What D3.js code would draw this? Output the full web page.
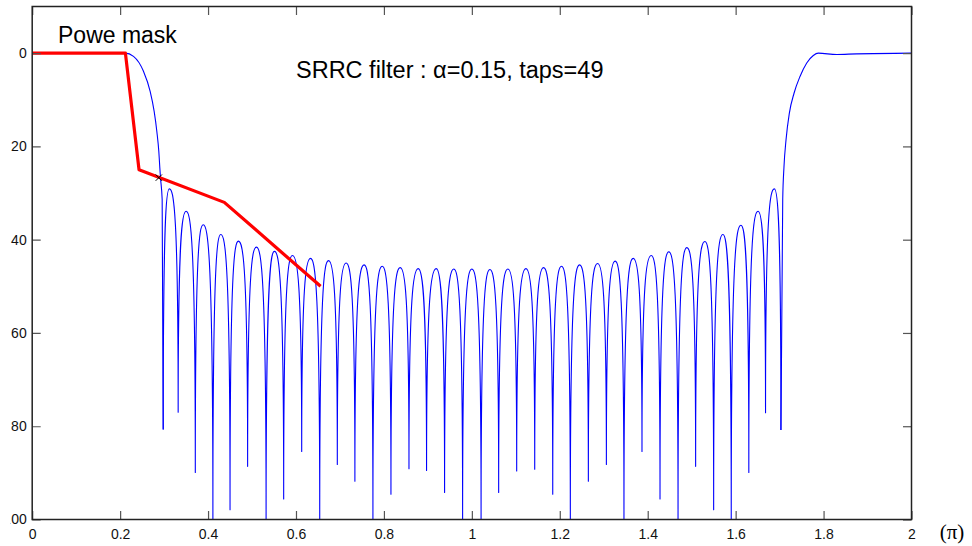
<!DOCTYPE html>
<html>
<head>
<meta charset="utf-8">
<script src="https://cdnjs.cloudflare.com/ajax/libs/d3/7.8.5/d3.min.js"></script>
<style>
  html, body { margin: 0; padding: 0; background: #fff; }
  svg { display: block; }
  text { font-family: "Liberation Sans", Arial, sans-serif; }
</style>
</head>
<body>
<svg id="chart" width="972" height="546"></svg>
<script>
// Axis ticks
const xTicks = [0, 0.2, 0.4, 0.6, 0.8, 1, 1.2, 1.4, 1.6, 1.8, 2];
const yTicks = [0, 20, 40, 60, 80, 100];

// Power mask (normalised frequency in units of pi, attenuation in dB)
const maskFreq = [0, 0.212, 0.243, 0.437, 0.656];
const maskDb   = [0, 0, 25, 32, 50];

// Point where the response crosses the mask
const crossFreq = [0.288];
const crossDb   = [26.7];

// SRRC response: pass band and lower transition edge
const leftEdgeFreq = [0, 0.2115, 0.2304, 0.2531, 0.2683, 0.2774, 0.2835, 0.2880, 0.2903, 0.2918, 0.2956];
const leftEdgeDb   = [0, 0, 0.7, 3.9, 8.2, 12.5, 16.8, 21.1, 24.6, 26.7, 31.4];

// SRRC response: upper transition edge and pass band
const rightEdgeFreq = [1.7071, 1.7100, 1.7146, 1.7221, 1.7328, 1.7464, 1.7617, 1.7767, 1.788, 1.83, 1.875, 2];
const rightEdgeDb   = [31.4, 24.3, 18.6, 12.9, 8.6, 5.0, 2.1, 0.5, 0, 0.3, 0.15, 0];

// SRRC response: stop band nulls (values at the floor are clipped at 100 dB)
const nullFreq = [0.298, 0.332, 0.371, 0.411, 0.450, 0.490, 0.532, 0.572, 0.613,
                  0.654, 0.694, 0.734, 0.775, 0.816, 0.857, 0.897, 0.938, 0.979,
                  1.021, 1.061, 1.102, 1.143, 1.184, 1.224, 1.265, 1.306, 1.346,
                  1.387, 1.428, 1.469, 1.509, 1.550, 1.590, 1.630, 1.668, 1.703];
const nullDb   = [80.7, 77.0, 89.9, 100, 97.9, 88.6, 100, 95.6, 85.4,
                  100, 88.2, 91.8, 100, 94.6, 89.1, 89.5, 94.2, 100,
                  100, 94.2, 89.6, 89.2, 94.6, 100, 91.8, 88.2, 100,
                  85.4, 95.6, 100, 88.6, 97.9, 100, 89.9, 77.1, 80.8];

// SRRC response: stop band side-lobe peaks
const peakFreq = [0.312, 0.350, 0.389, 0.429, 0.469, 0.510, 0.551, 0.592, 0.633,
                  0.674, 0.714, 0.755, 0.796, 0.837, 0.878, 0.919, 0.959, 1.000,
                  1.041, 1.082, 1.123, 1.163, 1.204, 1.245, 1.286, 1.326, 1.367,
                  1.408, 1.448, 1.489, 1.530, 1.571, 1.612, 1.651, 1.688];
const peakDb   = [29.1, 33.9, 36.8, 38.9, 40.3, 41.6, 42.5, 43.4, 44.0,
                  44.5, 45.0, 45.4, 45.7, 46.0, 46.2, 46.2, 46.3, 46.3,
                  46.4, 46.3, 46.2, 46.0, 45.7, 45.4, 45.1, 44.6, 44.0,
                  43.4, 42.6, 41.7, 40.4, 38.9, 36.9, 33.9, 29.1];

const svg = d3.select("#chart");
const W = 972, H = 546;
const plotL = 32.2, plotR = 911.5, plotT = 6.5, plotB = 519.5;

const x = d3.scaleLinear().domain([0, 2]).range([plotL, plotR]);
const y = d3.scaleLinear().domain([-10, 100]).range([plotT, plotB]);

// Everything left of the page margin is cut off, as on the printed figure
const defs = svg.append("defs");
defs.append("clipPath").attr("id", "page")
  .append("rect").attr("x", 10.5).attr("y", 0).attr("width", W).attr("height", H);
defs.append("clipPath").attr("id", "plot")
  .append("rect").attr("x", plotL).attr("y", plotT)
  .attr("width", plotR - plotL).attr("height", plotB - plotT);

const root = svg.append("g").attr("clip-path", "url(#page)");

// Curve for the stop band: vertical tangent at each null, flat at each lobe top
function lobeCurve(context) {
  let pts = [];
  return {
    areaStart() {}, areaEnd() {},
    lineStart() { pts = []; },
    point(px, py) { pts.push([+px, +py]); },
    lineEnd() {
      if (!pts.length) return;
      context.moveTo(pts[0][0], pts[0][1]);
      for (let i = 1; i < pts.length; i++) {
        const [x0, y0] = pts[i - 1], [x1, y1] = pts[i];
        const dx = x1 - x0, dy = y1 - y0;
        if (y1 < y0) {
          context.bezierCurveTo(x0, y0 + 0.9 * dy, x1 - 0.5 * dx, y1, x1, y1);
        } else {
          context.bezierCurveTo(x0 + 0.5 * dx, y0, x1, y1 - 0.9 * dy, x1, y1);
        }
      }
    }
  };
}

const plot = root.append("g").attr("clip-path", "url(#plot)");

// Response pieces
const leftEdge = leftEdgeFreq.map((f, i) => [f, leftEdgeDb[i]]);
leftEdge.push([nullFreq[0], nullDb[0]]);
const rightEdge = [[nullFreq[nullFreq.length - 1], nullDb[nullDb.length - 1]]]
  .concat(rightEdgeFreq.map((f, i) => [f, rightEdgeDb[i]]));
const stopBand = nullFreq.map((f, i) => [f, nullDb[i]])
  .concat(peakFreq.map((f, i) => [f, peakDb[i]]))
  .sort((a, b) => a[0] - b[0]);

const smoothLine = d3.line().x(d => x(d[0])).y(d => y(d[1])).curve(d3.curveMonotoneX);
const lobeLine = d3.line().x(d => x(d[0])).y(d => y(d[1])).curve(lobeCurve);

const blue = { stroke: "#0000ff", width: 1.1 };
[leftEdge, rightEdge].forEach(seg => {
  plot.append("path").attr("d", smoothLine(seg))
    .attr("fill", "none").attr("stroke", blue.stroke).attr("stroke-width", blue.width);
});
plot.append("path").attr("d", lobeLine(stopBand))
  .attr("fill", "none").attr("stroke", blue.stroke).attr("stroke-width", blue.width)
  .attr("stroke-linejoin", "round");

// Power mask
const maskLine = d3.line().x(d => x(d[0])).y(d => y(d[1]));
plot.append("path")
  .attr("d", maskLine(maskFreq.map((f, i) => [f, maskDb[i]])))
  .attr("fill", "none").attr("stroke", "#ff0000").attr("stroke-width", 3.2)
  .attr("stroke-linejoin", "round");

// Crossing marker
plot.selectAll("path.cross").data(crossFreq.map((f, i) => [f, crossDb[i]]))
  .join("path").attr("class", "cross")
  .attr("transform", d => `translate(${x(d[0])},${y(d[1])})`)
  .attr("d", d3.symbol(d3.symbolTimes, 28)())
  .attr("fill", "none").attr("stroke", "#000").attr("stroke-width", 1);

// Axes with inward ticks on all four sides
const fmt = d3.format("~g");
const tick = 8.5;
const styleAxis = g => {
  g.select(".domain").remove();
  g.selectAll(".tick line").attr("stroke", "#555").attr("stroke-width", 1.2);
  g.selectAll("text").attr("fill", "#111").style("font-size", "14px")
    .style("font-family", "'Liberation Sans', Arial, sans-serif");
};

root.append("g").attr("transform", `translate(0,${plotB})`)
  .call(d3.axisBottom(x).tickValues(xTicks).tickFormat(fmt).tickSize(-tick).tickPadding(10))
  .call(styleAxis);
root.append("g").attr("transform", `translate(0,${plotT})`)
  .call(d3.axisTop(x).tickValues(xTicks).tickFormat("").tickSize(-tick))
  .call(styleAxis);
root.append("g").attr("transform", `translate(${plotL},0)`)
  .call(d3.axisLeft(y).tickValues(yTicks).tickFormat(fmt).tickSize(-tick).tickPadding(5.5))
  .call(styleAxis);
root.append("g").attr("transform", `translate(${plotR},0)`)
  .call(d3.axisRight(y).tickValues(yTicks).tickFormat("").tickSize(-tick))
  .call(styleAxis);

// Frame
root.append("rect").attr("x", plotL).attr("y", plotT)
  .attr("width", plotR - plotL).attr("height", plotB - plotT)
  .attr("fill", "none").attr("stroke", "#222").attr("stroke-width", 1.5);

// Labels
root.append("text").attr("x", 58).attr("y", 42.5)
  .style("font-size", "23px").attr("fill", "#000").text("Powe mask");
root.append("text").attr("x", 296).attr("y", 78)
  .style("font-size", "23.5px").attr("fill", "#000").text("SRRC filter : α=0.15, taps=49");
root.append("text").attr("x", 952).attr("y", 539).attr("text-anchor", "middle")
  .style("font-family", "'Liberation Serif', 'Times New Roman', serif")
  .style("font-size", "21px").attr("fill", "#000").text("(π)");
</script>
</body>
</html>
